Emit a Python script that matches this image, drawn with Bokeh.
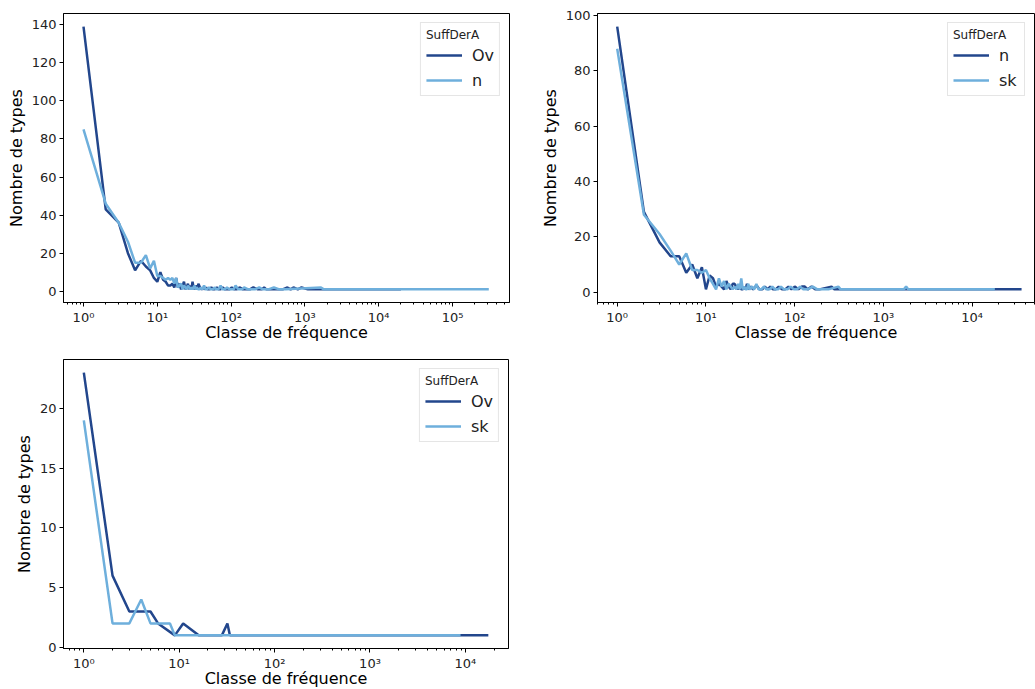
from bokeh.plotting import figure
from bokeh.layouts import column, row
from bokeh.models import (Range1d, FixedTicker, SingleIntervalTicker,
                          CustomJSTickFormatter, Legend, LegendItem)
from bokeh.embed import file_html
from bokeh.resources import INLINE

# ---------------- data ----------------
# Panel 1: Ov vs n
p1_ov_x = [1, 2, 3, 4, 5, 6, 7, 8, 9, 10, 11, 12, 13, 14, 15, 16, 17, 18, 19, 20,
           21, 22, 23, 24, 25, 26, 27, 28, 29, 30, 31, 32, 33,
           35, 36, 38, 40, 42, 44, 46, 48, 51, 54,
           57, 60, 64, 68, 72, 77, 82, 88, 95, 102,
           110, 120, 130, 145, 160, 180, 200, 230, 260, 280,
           300, 350, 420, 500, 580, 640, 700, 800, 900, 1100, 20000]
p1_ov_y = [139, 43, 36, 20, 11, 16, 13, 11, 7, 5,
           10, 6, 5, 3, 3, 4, 2, 7, 2, 4,
           1, 3, 5, 1, 2, 4, 1, 3, 1, 5,
           2, 1, 3,
           1, 4, 2, 1, 2, 1, 2, 1, 1, 2,
           1, 1, 2, 1, 1, 2, 1, 1, 1, 2,
           1, 1, 2, 1, 1, 1, 2, 1, 1, 2,
           1, 1, 1, 1, 2, 1, 2, 1, 2, 1, 1]
p1_n_x = [1, 2, 3, 4, 5, 6, 7, 8, 9, 10, 11, 12, 13, 14, 15, 16, 17, 18, 19, 20,
          21, 22, 23, 24, 25, 26, 27, 28, 29, 30,
          32, 33, 34, 36, 37, 39, 41, 43, 45, 47,
          50, 53, 56, 60, 63, 67, 72, 76, 82, 88,
          95, 100, 108, 115, 125, 140, 150, 170, 190, 210,
          240, 270, 320, 380, 450, 550, 1650, 1800, 310000]
p1_n_y = [85, 46, 36, 26, 15, 15, 19, 12, 16, 8,
          8, 7, 6, 7, 6, 7, 4, 7, 2, 3,
          4, 1, 3, 2, 1, 3, 2, 1, 2, 1,
          3, 1, 2, 1, 1, 2, 1, 3, 1, 1,
          2, 1, 1, 2, 1, 1, 3, 1, 1, 2,
          1, 1, 1, 3, 1, 1, 2, 1, 1, 1,
          2, 1, 1, 2, 1, 1, 2, 1, 1]

# Panel 2: n vs sk
p2_n_x = [1, 2, 3, 4, 5, 6, 7, 8, 9, 10, 11, 12, 13, 14, 15, 16, 17, 18, 19, 20,
          21, 22, 23, 24, 25, 26, 27, 28, 29, 30,
          32, 34, 36, 38, 40, 43, 46, 50, 53, 57,
          61, 66, 72, 78, 85, 92, 100, 110, 120, 130,
          140, 155, 170, 190, 260, 280, 300, 1700, 18000, 36000]
p2_n_y = [96, 29, 18, 13, 13, 7, 10, 5, 9, 1,
          6, 5, 2, 3, 2, 1, 4, 2, 1, 3,
          3, 2, 1, 2, 1, 1, 2, 1, 3, 1,
          2, 1, 2, 2, 1, 1, 2, 1, 2, 1,
          1, 2, 1, 1, 2, 1, 2, 1, 2, 2,
          1, 2, 1, 1, 2, 1, 1, 1, 1, 1]
p2_sk_x = [1, 2, 3, 4, 5, 6, 7, 8, 9, 10, 11, 12, 13, 14, 15, 16, 17, 18, 19, 20,
           21, 22, 23, 24, 25, 26, 27, 28, 29, 30,
           31, 33, 35, 37, 39, 42, 45, 48, 52, 56,
           60, 65, 70, 76, 83, 90, 98, 106, 115, 125,
           140, 160, 180, 210, 240, 310, 330, 1700, 1800, 1900, 18000]
p2_sk_y = [88, 28, 21, 15, 10, 14, 8, 8, 7, 8,
           5, 3, 1, 5, 2, 4, 1, 3, 2, 1,
           2, 1, 3, 1, 5, 1, 2, 1, 1, 3,
           1, 2, 1, 3, 1, 1, 2, 1, 1, 2,
           1, 1, 2, 1, 1, 2, 1, 1, 2, 1,
           1, 2, 1, 1, 1, 2, 1, 1, 2, 1, 1]

# Panel 3: Ov vs sk
p3_ov_x = [1, 2, 3, 4, 5, 6, 9, 11, 16, 28, 32, 34, 60, 150, 800, 8900, 17400]
p3_ov_y = [23, 6, 3, 3, 3, 2, 1, 2, 1, 1, 2, 1, 1, 1, 1, 1, 1]
p3_sk_x = [1, 2, 3, 4, 5, 6, 7, 8, 9, 12, 20, 45, 100, 400, 2000, 8900]
p3_sk_y = [19, 2, 2, 4, 2, 2, 2, 2, 1, 1, 1, 1, 1, 1, 1, 1]

legend_title = "SuffDerA"
x_label = "Classe de fréquence"
y_label = "Nombre de types"

# ---------------- style ----------------
DARK = "#22468c"
LIGHT = "#6eafdc"
FONT = "DejaVu Sans"

sup_js = CustomJSTickFormatter(code="""
const sup = {"0":"\u2070","1":"\u00b9","2":"\u00b2","3":"\u00b3","4":"\u2074",
             "5":"\u2075","6":"\u2076","7":"\u2077","8":"\u2078","9":"\u2079","-":"\u207b"};
const e = Math.round(Math.log10(tick));
return "10" + String(e).split("").map(c => sup[c]).join("");
""")


def make_panel(xs, ys, labels, xr, yr, ystep, fw, fh, bl, br, bt, bb):
    p = figure(x_axis_type="log", x_range=Range1d(*xr), y_range=Range1d(*yr),
               frame_width=fw, frame_height=fh,
               min_border_left=bl, min_border_right=br,
               min_border_top=bt, min_border_bottom=bb,
               output_backend="svg", toolbar_location=None,
               background_fill_color="white", border_fill_color="white")
    p.xgrid.visible = False
    p.ygrid.visible = False
    p.outline_line_color = "black"
    p.outline_line_alpha = 1.0
    p.outline_line_width = 1

    decades = list(range(-1, 7))
    p.xaxis.ticker = FixedTicker(ticks=[10.0 ** k for k in decades],
                                 minor_ticks=[m * 10.0 ** k for k in decades for m in range(2, 10)])
    p.xaxis.formatter = sup_js
    p.yaxis.ticker = SingleIntervalTicker(interval=ystep, num_minor_ticks=0)

    for ax in (p.xaxis[0], p.yaxis[0]):
        ax.axis_label_text_font = FONT
        ax.axis_label_text_font_size = "16px"
        ax.axis_label_text_font_style = "normal"
        ax.axis_label_text_color = "black"
        ax.major_label_text_font = FONT
        ax.major_label_text_font_size = "13px"
        ax.major_label_text_color = "#222222"
        ax.major_tick_out = 4
        ax.major_tick_in = 0
        ax.minor_tick_out = 2
        ax.minor_tick_in = 0
        ax.axis_line_color = "black"
        ax.major_tick_line_color = "black"
        ax.minor_tick_line_color = "black"
        ax.major_label_standoff = 3
    p.yaxis.minor_tick_line_color = None
    p.xaxis.axis_label = x_label
    p.yaxis.axis_label = y_label
    p.xaxis.axis_label_standoff = -5
    p.yaxis.axis_label_standoff = 3

    r1 = p.line(xs[0], ys[0], line_color=DARK, line_width=2.5)
    r2 = p.line(xs[1], ys[1], line_color=LIGHT, line_width=2.5)

    leg = Legend(items=[LegendItem(label=labels[0], renderers=[r1]),
                        LegendItem(label=labels[1], renderers=[r2])],
                 location="top_right", title=legend_title)
    leg.title_text_font = FONT
    leg.title_text_font_size = "12px"
    leg.title_text_font_style = "normal"
    leg.title_text_color = "#222222"
    leg.title_standoff = 3
    leg.label_text_font = FONT
    leg.label_text_font_size = "16px"
    leg.label_text_color = "#222222"
    leg.glyph_width = 36
    leg.glyph_height = 20
    leg.label_height = 20
    leg.label_standoff = 10
    leg.spacing = 5
    leg.padding = 5
    leg.margin = 9
    leg.border_line_color = "#cccccc"
    leg.border_line_width = 1
    leg.background_fill_alpha = 0.8
    p.add_layout(leg)
    return p


p1 = make_panel([p1_ov_x, p1_n_x], [p1_ov_y, p1_n_y], ["Ov", "n"],
                (10 ** -0.271, 10 ** 5.772), (-5.9, 145.9), 20,
                446, 289, 63, 10, 13, 45)
p2 = make_panel([p2_n_x, p2_sk_x], [p2_n_y, p2_sk_y], ["n", "sk"],
                (10 ** -0.222, 10 ** 4.702), (-3.75, 100.75), 20,
                437, 289, 78, 1, 13, 45)
p3 = make_panel([p3_ov_x, p3_sk_x], [p3_ov_y, p3_sk_y], ["Ov", "sk"],
                (10 ** -0.213, 10 ** 4.452), (-0.1, 24.1), 5,
                445, 289, 63, 11, 12, 41)

layout = column(row(p1, p2), p3)
open("out.html", "w").write(file_html(layout, INLINE))
